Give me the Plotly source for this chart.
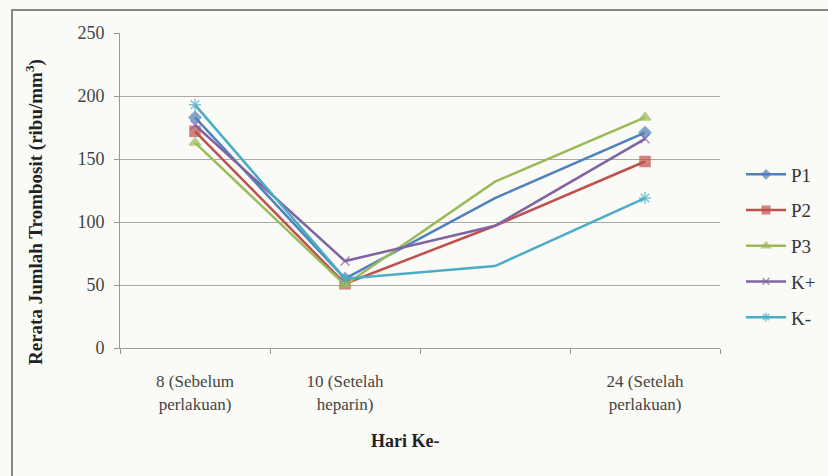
import plotly.graph_objects as go

categories = ["8 (Sebelum<br>perlakuan)", "10 (Setelah<br>heparin)", " ", "24 (Setelah<br>perlakuan)"]
series_names = ["P1", "P2", "P3", "K+", "K-"]
p1 = [183, 55, 119, 171]
p2 = [172, 51, 97, 148]
p3 = [163, 50, 132, 183]
kplus = [177, 69, 97, 166]
kminus = [193, 55, 65, 119]
y_ticks = [0, 50, 100, 150, 200, 250]

values = [p1, p2, p3, kplus, kminus]
colors = ["#4F81BD", "#C0504D", "#9BBB59", "#8064A2", "#4BACC6"]
symbols = ["diamond", "square", "triangle-up", "x-thin-open", "asterisk-open"]
sizes = [9, 10, 10, 9, 10]

fig = go.Figure()
for i, (name, vals) in enumerate(zip(series_names, values)):
    msize = [sizes[i], sizes[i], 0, sizes[i]]
    fig.add_trace(go.Scatter(
        x=categories, y=vals, name=name, mode="lines+markers",
        line=dict(color=colors[i], width=2.5),
        marker=dict(symbol=symbols[i], size=msize, color=colors[i],
                    line=dict(color=colors[i], width=1.5)),
        legendgroup=name,
    ))

serif = "Liberation Serif"
bg = "#FAFAF6"
fig.update_layout(
    width=828, height=476,
    margin=dict(l=120, r=108, t=33, b=128, autoexpand=False),
    paper_bgcolor=bg, plot_bgcolor=bg,
    font=dict(family=serif, size=17, color="#444"),
    showlegend=True,
    legend=dict(xref="container", yref="container", x=741 / 828, y=1 - 246 / 476,
                xanchor="left", yanchor="middle",
                font=dict(family=serif, size=19, color="#333"),
                bgcolor="rgba(0,0,0,0)", tracegroupgap=8,
                traceorder="grouped", itemwidth=40),
    xaxis=dict(type="category", tickson="boundaries", ticks="outside", ticklen=5,
               tickcolor="#999", showline=True, linecolor="#999", linewidth=1,
               showgrid=False, tickfont=dict(family=serif, size=17, color="#444"),
               ticklabelstandoff=18, range=[-0.5, 3.5], automargin=False),
    yaxis=dict(range=[0, 250], tickvals=y_ticks, ticks="outside", ticklen=5,
               tickcolor="#999", showline=True, linecolor="#999", linewidth=1,
               showgrid=True, gridcolor="#A8A8A8", gridwidth=1, zeroline=False,
               ticklabelstandoff=6, automargin=False,
               tickfont=dict(family=serif, size=18, color="#444")),
    shapes=[dict(type="rect", xref="paper", yref="paper",
                 x0=(12 - 120) / 600, x1=(840 - 120) / 600,
                 y0=(348 - 490) / 315, y1=(348 - 10) / 315,
                 line=dict(color="#888", width=2), fillcolor="rgba(0,0,0,0)", layer="below")],
    annotations=[
        dict(text="<b>Rerata Jumlah Trombosit (ribu/mm<sup>3</sup>)</b>", xref="paper", yref="paper",
             x=(34 - 120) / 600, y=(348 - 212) / 315, textangle=-90, showarrow=False,
             xanchor="center", yanchor="middle",
             font=dict(family=serif, size=19, color="#222")),
        dict(text="<b>Hari Ke-</b>", xref="paper", yref="paper",
             x=(405 - 120) / 600, y=(348 - 441) / 315, showarrow=False,
             xanchor="center", yanchor="middle",
             font=dict(family=serif, size=18, color="#222")),
    ],
)

fig.write_html("out.html")
